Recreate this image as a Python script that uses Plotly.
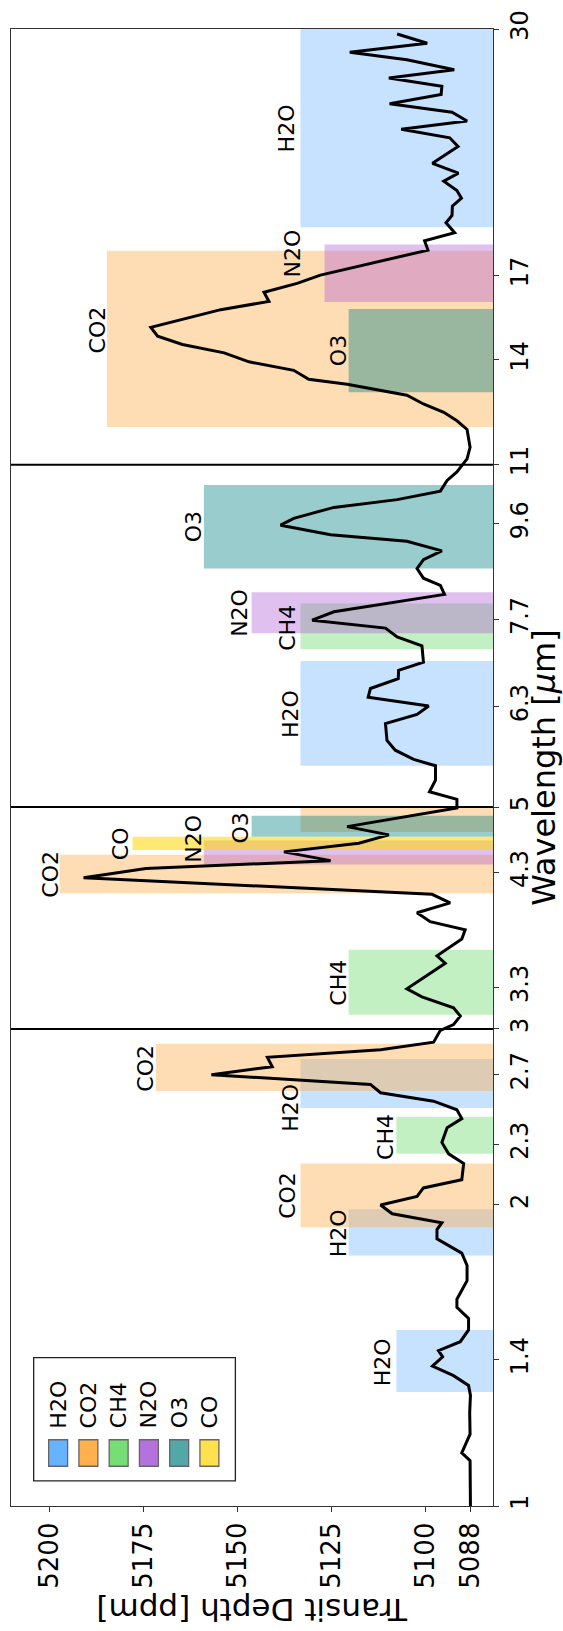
import numpy as np
import plotly.graph_objects as go

# Transmission spectrum (wavelength in micron, transit depth in ppm)
wavelength = [1.00, 1.08, 1.11, 1.13, 1.18, 1.24, 1.29, 1.32, 1.35, 1.38, 1.41, 1.43, 1.46, 1.50,
              1.54, 1.58, 1.61, 1.68, 1.74, 1.79, 1.85, 1.89, 1.92, 1.96, 2.00, 2.04, 2.08, 2.12,
              2.20, 2.25, 2.31, 2.39, 2.44, 2.49, 2.54, 2.59, 2.64, 2.70, 2.75, 2.81, 2.86, 2.91,
              2.99, 3.03, 3.09, 3.15, 3.23, 3.29, 3.49, 3.55, 3.69, 3.77, 3.84, 3.92, 4.01, 4.09,
              4.25, 4.34, 4.42, 4.51, 4.60, 4.69, 4.78, 4.99, 5.09, 5.18, 5.32, 5.50, 5.58, 5.70,
              5.83, 6.06, 6.19, 6.31, 6.44, 6.57, 6.72, 6.85, 6.98, 7.25, 7.40, 7.55, 7.69, 7.84,
              8.16, 8.33, 8.47, 8.66, 8.84, 9.02, 9.22, 9.36, 9.57, 9.72, 9.97, 10.15, 10.35,
              10.61, 10.82, 11.15, 11.45, 11.93, 12.17, 12.41, 12.65, 12.91, 13.24, 13.39, 13.67,
              13.94, 14.23, 14.51, 14.79, 15.09, 15.72, 16.02, 16.36, 16.70, 17.02, 18.03, 18.42,
              18.77, 19.20, 19.53, 19.95, 20.32, 20.68, 21.13, 21.53, 22.02, 22.89, 23.35, 23.81,
              24.27, 24.77, 25.25, 25.80, 26.29, 26.80, 27.31, 27.95, 28.44, 29.03, 29.66]
depth = [5088.0, 5088.0, 5088.1, 5090.3, 5088.1, 5088.2, 5088.0, 5088.5, 5092.5, 5098.1, 5095.4,
         5096.5, 5090.7, 5088.5, 5088.5, 5091.6, 5091.6, 5088.9, 5088.9, 5090.3, 5096.9, 5096.9,
         5095.6, 5108.8, 5111.9, 5102.2, 5100.5, 5090.3, 5089.8, 5093.8, 5095.6, 5094.2, 5090.3,
         5091.6, 5097.8, 5111.9, 5114.6, 5156.9, 5140.7, 5142.0, 5111.9, 5097.8, 5096.0, 5092.5,
         5090.7, 5092.5, 5100.9, 5104.9, 5094.7, 5096.9, 5090.3, 5089.4, 5098.7, 5102.2, 5093.4,
         5098.2, 5190.9, 5174.3, 5125.2, 5137.6, 5117.7, 5109.7, 5120.8, 5091.6, 5091.6, 5098.9,
         5097.3, 5097.3, 5103.1, 5108.0, 5110.2, 5110.6, 5102.2, 5099.1, 5115.2, 5114.6, 5107.2,
         5107.1, 5100.5, 5100.9, 5107.5, 5110.6, 5130.1, 5124.3, 5094.9, 5096.0, 5100.5, 5102.2,
         5100.5, 5095.6, 5104.9, 5125.2, 5138.5, 5135.0, 5124.3, 5107.5, 5096.0, 5094.2, 5091.6,
         5088.9, 5088.1, 5088.9, 5091.6, 5095.1, 5100.5, 5104.9, 5120.8, 5131.0, 5135.0, 5146.9,
         5153.5, 5164.6, 5171.2, 5173.0, 5154.4, 5141.6, 5142.9, 5134.1, 5127.9, 5099.3, 5100.2,
         5092.2, 5094.5, 5092.9, 5092.8, 5090.4, 5091.6, 5095.1, 5091.2, 5098.1, 5091.3, 5093.5,
         5106.4, 5088.9, 5092.9, 5109.5, 5095.8, 5095.6, 5109.7, 5092.3, 5104.9, 5120.1, 5099.5,
         5107.5]

# Molecular absorption bands
band_gas = ["H2O", "H2O", "CO2", "CH4", "H2O", "CO2", "CH4", "CO2", "N2O", "CO", "O3", "CO2",
            "H2O", "CH4", "N2O", "O3", "CO2", "O3", "N2O", "H2O"]
band_lo = [1.30, 1.78, 1.90, 2.25, 2.50, 2.60, 3.10, 4.10, 4.38, 4.53, 4.67, 4.72,
           5.50, 7.19, 7.46, 8.66, 12.0, 13.0, 16.0, 19.0]
band_hi = [1.50, 1.98, 2.20, 2.45, 2.80, 2.90, 3.60, 4.48, 4.63, 4.67, 4.90, 5.00,
           7.00, 7.99, 8.20, 10.5, 18.0, 15.74, 18.26, 30.0]
band_top = [5107.7, 5120.4, 5133.2, 5107.7, 5133.2, 5171.7, 5120.4, 5197.3, 5158.9, 5177.9,
            5146.2, 5133.2, 5133.2, 5133.2, 5146.2, 5158.9, 5184.7, 5120.4, 5126.8, 5133.2]

# Band labels
label_text = ["H2O", "H2O", "CO2", "CH4", "H2O", "CO2", "CH4", "CO2", "N2O", "CO", "O3",
              "H2O", "CH4", "N2O", "O3", "O3", "CO2", "N2O", "H2O"]
label_wl = [1.394, 1.874, 2.043, 2.342, 2.504, 2.744, 3.338, 4.286, 4.649, 4.591, 4.762,
            6.191, 7.558, 7.813, 9.538, 14.29, 14.99, 17.89, 23.84]
label_depth = [5111.4, 5123.2, 5136.5, 5110.6, 5135.9, 5174.3, 5123.2, 5199.9, 5161.5, 5181.2,
               5149.2, 5135.8, 5136.5, 5149.4, 5161.6, 5123.2, 5187.3, 5135.2, 5136.9]

separators = [3, 5, 11]
wl_ticks = [1, 1.4, 2, 2.3, 2.7, 3, 3.3, 4.3, 5, 6.3, 7.7, 9.6, 11, 14, 17, 30]
depth_ticks = [5200, 5175, 5150, 5125, 5100, 5088]

gases = ["H2O", "CO2", "CH4", "N2O", "O3", "CO"]
band_rgb = {"H2O": (108, 178, 253), "CO2": (255, 170, 67), "CH4": (102, 217, 102),
            "N2O": (178, 98, 212), "O3": (0, 128, 128), "CO": (255, 215, 0)}
band_alpha = {"H2O": 0.38, "CO2": 0.4, "CH4": 0.4, "N2O": 0.4, "O3": 0.4, "CO": 0.55}
swatch_color = {"H2O": "#66b3ff", "CO2": "#ffb14e", "CH4": "#77dd77",
                "N2O": "#b473dc", "O3": "#52a7a7", "CO": "#ffe14d"}
draw_order = ["H2O", "CH4", "CO2", "N2O", "O3", "CO"]

FONT = "DejaVu Sans"
LABEL_SIZE = 22
W, H = 563, 1631
ML, MR, MT, MB = 10, 70.3, 19, 125
X_RANGE = [5210.2, 5082.0]
base = X_RANGE[1] - 5

fig = go.Figure()

for gas in draw_order:
    r, g, b = band_rgb[gas]
    fill = f"rgba({r},{g},{b},{band_alpha[gas]})"
    for gname, lo, hi, top in zip(band_gas, band_lo, band_hi, band_top):
        if gname != gas:
            continue
        fig.add_trace(go.Scatter(
            x=[base, top, top, base, base], y=[lo, lo, hi, hi, lo],
            mode="lines", fill="toself", fillcolor=fill,
            line=dict(width=0), hoverinfo="skip", showlegend=False))

for wl in separators:
    fig.add_trace(go.Scatter(x=[X_RANGE[0] + 5, base], y=[wl, wl], mode="lines",
                             line=dict(color="black", width=2), showlegend=False,
                             hoverinfo="skip"))

fig.add_trace(go.Scatter(x=depth, y=wavelength, mode="lines",
                         line=dict(color="black", width=3), showlegend=False))

annotations = []
for txt, wl, dp in zip(label_text, label_wl, label_depth):
    annotations.append(dict(x=dp, y=np.log10(wl), xref="x", yref="y", text=txt,
                            textangle=-90, showarrow=False, xanchor="center",
                            yanchor="middle",
                            font=dict(family=FONT, size=LABEL_SIZE, color="black")))

pw = W - ML - MR
ph = H - MT - MB


def px(xp):
    return (xp - ML) / pw


def py(yp):
    return (H - MB - yp) / ph


# Axis titles
annotations.append(dict(x=px(543), y=0.5, xref="paper", yref="paper",
                        text="Wavelength [<i>μ</i>m]", textangle=-90, showarrow=False,
                        xanchor="center", yanchor="middle",
                        font=dict(family=FONT, size=32, color="black")))
annotations.append(dict(x=0.5, y=py(1610), xref="paper", yref="paper",
                        text="Transit Depth [ppm]", textangle=180, showarrow=False,
                        xanchor="center", yanchor="middle",
                        font=dict(family=FONT, size=31, color="black")))

# Legend drawn as a box of swatches with rotated labels
shapes = [dict(type="rect", xref="paper", yref="paper", x0=px(32.7), x1=px(234.7),
               y0=py(1480.7), y1=py(1356.7), line=dict(color="#222", width=1.3),
               fillcolor="white", layer="above")]
sw_x0, sw_step, sw_w = 47.7, 30.3, 19
for i, gas in enumerate(gases):
    x0 = sw_x0 + i * sw_step
    shapes.append(dict(type="rect", xref="paper", yref="paper", x0=px(x0), x1=px(x0 + sw_w),
                       y0=py(1466), y1=py(1439.3), line=dict(color="#666", width=1.3),
                       fillcolor=swatch_color[gas], layer="above"))
    annotations.append(dict(x=px(x0 + sw_w / 2), y=py(1430), xref="paper", yref="paper",
                            text=gas, textangle=-90, showarrow=False, xanchor="center",
                            yanchor="bottom",
                            font=dict(family=FONT, size=LABEL_SIZE, color="black")))

fig.update_layout(
    width=W, height=H, autosize=False,
    margin=dict(l=ML, r=MR, t=MT, b=MB, pad=0),
    plot_bgcolor="white", paper_bgcolor="white",
    font=dict(family=FONT, color="black"),
    annotations=annotations, shapes=shapes, showlegend=False,
    xaxis=dict(range=X_RANGE, tickvals=depth_ticks, ticktext=[str(v) for v in depth_ticks],
               ticks="outside", ticklen=5, tickwidth=1.3, tickcolor="#333", tickangle=-90,
               tickfont=dict(family=FONT, size=26, color="black"),
               showline=True, linecolor="#333", linewidth=1.3, mirror=True,
               showgrid=False, zeroline=False),
    yaxis=dict(type="log", range=[0, np.log10(30)], side="right", tickvals=wl_ticks,
               ticktext=[str(v) for v in wl_ticks], ticks="outside", ticklen=5, tickwidth=1.3,
               tickcolor="#333", tickangle=-90,
               tickfont=dict(family=FONT, size=24, color="black"),
               showline=True, linecolor="#333", linewidth=1.3, mirror=True,
               showgrid=False, zeroline=False),
)

fig.write_html("out.html")
